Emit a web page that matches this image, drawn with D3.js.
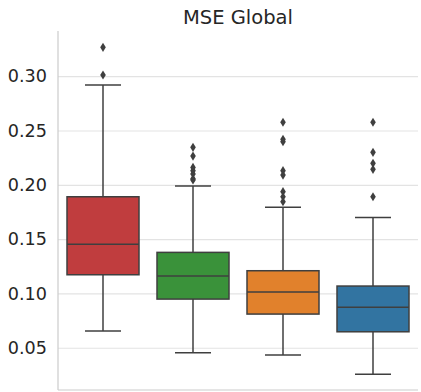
<!DOCTYPE html>
<html>
<head>
<meta charset="utf-8">
<script src="https://cdn.jsdelivr.net/npm/d3@7"></script>
<style>
  body { margin: 0; background: #fff; }
  svg { font-family: "DejaVu Sans", sans-serif; }
</style>
</head>
<body>
<div id="chart"></div>
<script>
// box stats: [whiskerLow, q1, median, q3, whiskerHigh]
var groups = ["A", "B", "C", "D"];
var colors = ["#c03d3e", "#3a923a", "#e1812c", "#3274a1"];
var lowWhisker = [0.0654, 0.0454, 0.0433, 0.0255];
var q1 = [0.1172, 0.0948, 0.0810, 0.0647];
var median = [0.1452, 0.1160, 0.1013, 0.0872];
var q3 = [0.1890, 0.1378, 0.1209, 0.1068];
var highWhisker = [0.2919, 0.1989, 0.1793, 0.1700];
var outliers = [
  [0.3266, 0.3011],
  [0.2345, 0.2265, 0.2160, 0.2130, 0.2100, 0.2055, 0.2045],
  [0.2576, 0.2419, 0.2397, 0.2130, 0.2090, 0.1937, 0.1890, 0.1845],
  [0.2576, 0.2299, 0.2198, 0.2143, 0.1890]
];
var yTicks = [0.05, 0.10, 0.15, 0.20, 0.25, 0.30];

function main() {
  var margin = {top: 31, right: 3, bottom: 2, left: 58},
      width = 421 - margin.left - margin.right,
      height = 392 - margin.top - margin.bottom;

  var svg = d3.select("#chart").append("svg")
      .attr("width", 421)
      .attr("height", 392);

  var g = svg.append("g")
      .attr("transform", "translate(" + margin.left + "," + margin.top + ")");

  var xScale = d3.scaleBand().domain(groups).range([0, width]).paddingInner(0.2).paddingOuter(0.1);
  var yScale = d3.scaleLinear().domain([0.0111, 0.3416]).range([height, 0]);

  // grid
  g.append("g")
      .call(d3.axisLeft(yScale).tickValues(yTicks).tickSize(-width).tickPadding(11)
        .tickFormat(d3.format(".2f")))
      .call(function(a) {
        a.select(".domain").remove();
        a.selectAll(".tick line").attr("stroke", "#e3e3e3").attr("stroke-width", 1.2);
        a.selectAll(".tick text").attr("fill", "#262626").style("font-size", "17.6px")
          .style("font-family", "DejaVu Sans, sans-serif");
      });

  // spines
  g.append("line").attr("x1", 0).attr("x2", 0).attr("y1", 0).attr("y2", height)
      .attr("stroke", "#cccccc").attr("stroke-width", 1.2);
  g.append("line").attr("x1", 0).attr("x2", width).attr("y1", height).attr("y2", height)
      .attr("stroke", "#cccccc").attr("stroke-width", 1.2);

  var lineColor = "#3f3f3f";
  var bw = xScale.bandwidth();

  groups.forEach(function(name, i) {
    var cx = xScale(name) + bw / 2;
    var box = g.append("g");

    // whiskers
    box.append("line").attr("x1", cx).attr("x2", cx)
        .attr("y1", yScale(q3[i])).attr("y2", yScale(highWhisker[i]))
        .attr("stroke", lineColor).attr("stroke-width", 1.5);
    box.append("line").attr("x1", cx).attr("x2", cx)
        .attr("y1", yScale(q1[i])).attr("y2", yScale(lowWhisker[i]))
        .attr("stroke", lineColor).attr("stroke-width", 1.5);
    [highWhisker[i], lowWhisker[i]].forEach(function(v) {
      box.append("line").attr("x1", cx - bw / 4).attr("x2", cx + bw / 4)
          .attr("y1", yScale(v)).attr("y2", yScale(v))
          .attr("stroke", lineColor).attr("stroke-width", 1.5);
    });

    box.append("rect")
        .attr("x", xScale(name))
        .attr("width", bw)
        .attr("y", yScale(q3[i]))
        .attr("height", yScale(q1[i]) - yScale(q3[i]))
        .attr("fill", colors[i])
        .attr("stroke", lineColor)
        .attr("stroke-width", 1.5);

    box.append("line").attr("x1", xScale(name)).attr("x2", xScale(name) + bw)
        .attr("y1", yScale(median[i])).attr("y2", yScale(median[i]))
        .attr("stroke", lineColor).attr("stroke-width", 1.5);

    box.selectAll(".out")
        .data(outliers[i])
        .enter().append("path")
        .attr("class", "out")
        .attr("d", "M0,-4.6L2.8,0L0,4.6L-2.8,0Z")
        .attr("transform", function(d) { return "translate(" + cx + "," + yScale(d) + ")"; })
        .attr("fill", lineColor);
  });

  svg.append("text")
      .attr("x", margin.left + width / 2)
      .attr("y", 24)
      .attr("text-anchor", "middle")
      .attr("fill", "#262626")
      .style("font-size", "19.5px")
      .text("MSE Global");
}
main();
</script>
</body>
</html>
